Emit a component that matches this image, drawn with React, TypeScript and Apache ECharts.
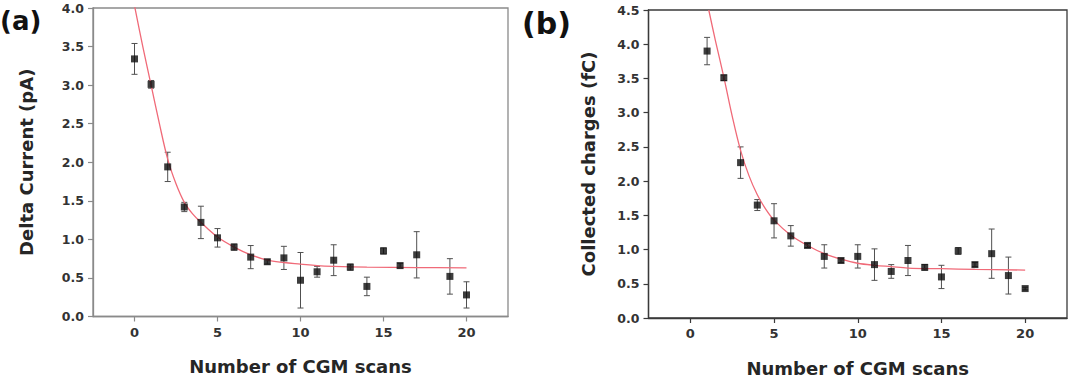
import React, { useEffect, useRef } from "react";
import * as echarts from "echarts";

// Panel (a): delta current per CGM scan
const scansA = [0, 1, 2, 3, 4, 5, 6, 7, 8, 9, 10, 11, 12, 13, 14, 15, 16, 17, 19, 20];
const currentA = [3.34, 3.01, 1.94, 1.42, 1.22, 1.02, 0.9, 0.77, 0.71, 0.76, 0.47, 0.58, 0.73, 0.64, 0.39, 0.85, 0.66, 0.8, 0.52, 0.28];
const currentErrA = [0.2, 0.05, 0.19, 0.06, 0.21, 0.12, 0.04, 0.15, 0.03, 0.15, 0.36, 0.07, 0.2, 0.04, 0.12, 0.04, 0.03, 0.3, 0.23, 0.17];
const fitScansA = [0, 0.5, 1, 1.5, 2, 2.5, 3, 3.5, 4, 5, 6, 7, 8, 9, 10, 11, 12, 14, 17, 20];
const fitCurrentA = [4.03, 3.5, 3.0, 2.5, 2.04, 1.72, 1.48, 1.33, 1.22, 1.03, 0.9, 0.8, 0.73, 0.7, 0.68, 0.66, 0.65, 0.64, 0.635, 0.63];

// Panel (b): collected charges per CGM scan
const scansB = [1, 2, 3, 4, 5, 6, 7, 8, 9, 10, 11, 12, 13, 14, 15, 16, 17, 18, 19, 20];
const chargesB = [3.9, 3.51, 2.27, 1.65, 1.42, 1.2, 1.06, 0.9, 0.84, 0.9, 0.78, 0.68, 0.84, 0.74, 0.6, 0.98, 0.78, 0.94, 0.62, 0.43];
const chargesErrB = [0.2, 0.04, 0.23, 0.08, 0.25, 0.15, 0.03, 0.17, 0.03, 0.17, 0.23, 0.1, 0.22, 0.04, 0.17, 0.05, 0.03, 0.36, 0.27, 0.02];
const fitScansB = [1.1, 1.5, 2, 2.5, 3, 3.5, 4, 4.5, 5, 6, 7, 8, 9, 10, 11, 12, 13, 15, 17, 20];
const fitChargesB = [4.5, 4.05, 3.52, 2.95, 2.45, 2.08, 1.8, 1.59, 1.43, 1.21, 1.06, 0.94, 0.86, 0.8, 0.77, 0.75, 0.73, 0.72, 0.71, 0.7];

const xTickValues = [0, 5, 10, 15, 20];

const FONT = "DejaVu Sans";

function errorBarSeries(xAxisIndex: number, xs: number[], ys: number[], errs: number[]) {
  return {
    type: "custom",
    xAxisIndex,
    yAxisIndex: xAxisIndex,
    z: 2,
    encode: { x: 0, y: 1 },
    data: xs.map((x, i) => [x, ys[i], errs[i]]),
    renderItem: (_params: any, api: any) => {
      const x = api.value(0);
      const y = api.value(1);
      const e = api.value(2);
      const top = api.coord([x, y + e]);
      const bot = api.coord([x, y - e]);
      const hw = 3;
      const style = { stroke: "#505050", lineWidth: 1 };
      return {
        type: "group",
        children: [
          { type: "line", shape: { x1: top[0], y1: top[1], x2: bot[0], y2: bot[1] }, style },
          { type: "line", shape: { x1: top[0] - hw, y1: top[1], x2: top[0] + hw, y2: top[1] }, style },
          { type: "line", shape: { x1: bot[0] - hw, y1: bot[1], x2: bot[0] + hw, y2: bot[1] }, style },
        ],
      };
    },
  };
}

function xAxisFor(gridIndex: number, color: string) {
  return {
    type: "value",
    gridIndex,
    min: -2.5,
    max: 22.5,
    name: "Number of CGM scans",
    nameLocation: "middle",
    nameGap: 41,
    nameTextStyle: { fontFamily: FONT, fontWeight: "bold", fontSize: 18, color: "#262626" },
    axisLine: { show: true, onZero: false, lineStyle: { color, width: 1.3 } },
    axisTick: { show: true, inside: false, length: 5, customValues: xTickValues, lineStyle: { color, width: 1.2 } },
    axisLabel: {
      customValues: xTickValues,
      margin: 9,
      fontFamily: FONT,
      fontWeight: "bold",
      fontSize: 13,
      color: "#333",
    },
    splitLine: { show: false },
  };
}

function yAxisFor(gridIndex: number, max: number, name: string, nameGap: number, color: string) {
  return {
    type: "value",
    gridIndex,
    min: 0,
    max,
    interval: 0.5,
    name,
    nameLocation: "middle",
    nameGap,
    nameTextStyle: { fontFamily: FONT, fontWeight: "bold", fontSize: 18, color: "#262626" },
    axisLine: { show: true, onZero: false, lineStyle: { color, width: 1.3 } },
    axisTick: { show: true, inside: false, length: 5, lineStyle: { color, width: 1.2 } },
    axisLabel: {
      margin: 9,
      fontFamily: FONT,
      fontWeight: "bold",
      fontSize: 12.5,
      color: "#333",
      formatter: (v: number) => v.toFixed(1),
    },
    splitLine: { show: false },
  };
}

export default function App() {
  const ref = useRef<HTMLDivElement>(null);

  useEffect(() => {
    if (!ref.current) return;
    const chart = echarts.init(ref.current, undefined, { renderer: "svg" });
    const frameA = "#8a8a8a";
    const frameB = "#3a3a3a";
    const fitStyle = { color: "#f06a78", width: 1.3 };

    chart.setOption({
      animation: false,
      backgroundColor: "#ffffff",
      grid: [
        { left: 93, top: 8, width: 415, height: 308.5, show: true, borderColor: frameA, borderWidth: 1.3, backgroundColor: "transparent" },
        { left: 648.5, top: 10, width: 418.5, height: 309.3, show: true, borderColor: frameB, borderWidth: 1.3, backgroundColor: "transparent" },
      ],
      xAxis: [xAxisFor(0, frameA), xAxisFor(1, frameB)],
      yAxis: [
        yAxisFor(0, 4, "Delta Current (pA)", 58, frameA),
        yAxisFor(1, 4.5, "Collected charges (fC)", 51, frameB),
      ],
      graphic: [
        {
          type: "text",
          x: 0,
          y: 21,
          style: { text: "(a)", font: `bold 26px "${FONT}"`, fill: "#111", align: "left", verticalAlign: "middle" },
        },
        {
          type: "text",
          x: 522,
          y: 23,
          style: { text: "(b)", font: `bold 30px "${FONT}"`, fill: "#111", align: "left", verticalAlign: "middle" },
        },
      ],
      series: [
        errorBarSeries(0, scansA, currentA, currentErrA),
        {
          type: "line",
          xAxisIndex: 0,
          yAxisIndex: 0,
          z: 3,
          smooth: 0.35,
          showSymbol: false,
          clip: true,
          lineStyle: fitStyle,
          data: fitScansA.map((x, i) => [x, fitCurrentA[i]]),
        },
        {
          type: "scatter",
          xAxisIndex: 0,
          yAxisIndex: 0,
          z: 4,
          symbol: "rect",
          symbolSize: 7,
          itemStyle: { color: "#0d0d0d" },
          data: scansA.map((x, i) => [x, currentA[i]]),
        },
        errorBarSeries(1, scansB, chargesB, chargesErrB),
        {
          type: "line",
          xAxisIndex: 1,
          yAxisIndex: 1,
          z: 3,
          smooth: 0.35,
          showSymbol: false,
          clip: true,
          lineStyle: fitStyle,
          data: fitScansB.map((x, i) => [x, fitChargesB[i]]),
        },
        {
          type: "scatter",
          xAxisIndex: 1,
          yAxisIndex: 1,
          z: 4,
          symbol: "rect",
          symbolSize: 7,
          itemStyle: { color: "#0d0d0d" },
          data: scansB.map((x, i) => [x, chargesB[i]]),
        },
      ],
    });

    return () => chart.dispose();
  }, []);

  return (
    <div
      ref={ref}
      style={{ position: "absolute", left: 0, top: 0, width: 1077, height: 382, background: "#fff" }}
    />
  );
}
